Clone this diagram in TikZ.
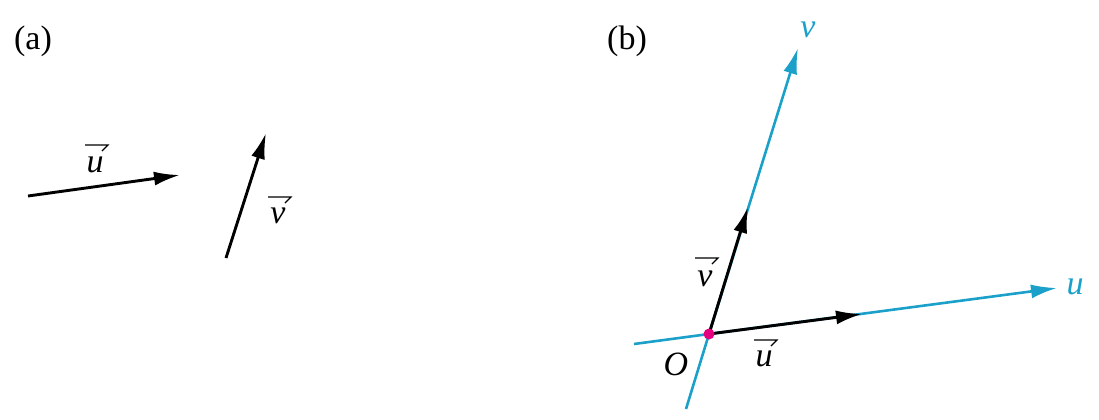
\documentclass[tikz,border=0pt]{standalone}
\usepackage{fontspec}
\setmainfont{Liberation Serif}
\usetikzlibrary{arrows.meta,calc}
\definecolor{axcyan}{HTML}{1BA1C9}
\definecolor{dotmag}{HTML}{E4007F}
\begin{document}
\begin{tikzpicture}[x=0.5pt,y=-0.5pt,
  lbl/.style={inner sep=0pt,font=\fontsize{17}{19}\selectfont},
  vecarrow/.style={line width=1.45pt,black,-{Latex[length=13pt,width=7pt]}},
  axarrow/.style={line width=1.3pt,axcyan,-{Latex[length=13pt,width=7pt]}},
  axline/.style={line width=1.3pt,axcyan},
  harp/.style={line width=0.6pt,black,line join=miter}]
\useasboundingbox (0,0) rectangle (1099,419);
% (a)
\node[lbl] (la) at (33,41) {(a)};
\coordinate (ua0) at (28,196);
\coordinate (ua1) at (180,175);
\coordinate (va0) at (226,258);
\coordinate (va1) at (266,133);
\draw[vecarrow] (ua0) -- (ua1);
\draw[vecarrow] (va0) -- (va1);
\node[lbl] (lua) at (95,165) {\textit{u}};
\node[lbl] (lva) at (278,216) {\textit{v}};
\draw[harp] ($(lua.center)+(-10,-20)$) -- ++(23,0) -- ++(-6,6);
\draw[harp] ($(lva.center)+(-10,-19)$) -- ++(23,0) -- ++(-6,6);
% (b)
\node[lbl] (lb) at (627,41) {(b)};
\coordinate (O) at (709,334);
\coordinate (ustart) at (634,344);
\coordinate (uend) at (1057,288);
\coordinate (vstart) at (686,409);
\coordinate (vend) at (798,48);
\coordinate (utip) at (862,314);
\coordinate (vtip) at (748,207);
\draw[axline] (ustart) -- (O);
\draw[axarrow] (O) -- (uend);
\draw[axline] (vstart) -- (O);
\draw[axarrow] (O) -- (vend);
\draw[vecarrow] (O) -- (utip);
\draw[vecarrow] (O) -- (vtip);
\fill[dotmag] (O) circle (5.5);
\node[lbl,text=axcyan] (lvax) at (808,30) {\textit{v}};
\node[lbl,text=axcyan] (luax) at (1075,287) {\textit{u}};
\node[lbl] (lO) at (676,364) {\textit{O}};
\node[lbl] (lub) at (764,359) {\textit{u}};
\node[lbl] (lvb) at (705,279) {\textit{v}};
\draw[harp] ($(lub.center)+(-10,-19)$) -- ++(23,0) -- ++(-6,6);
\draw[harp] ($(lvb.center)+(-10,-21)$) -- ++(23,0) -- ++(-6,6);
\end{tikzpicture}
\end{document}
